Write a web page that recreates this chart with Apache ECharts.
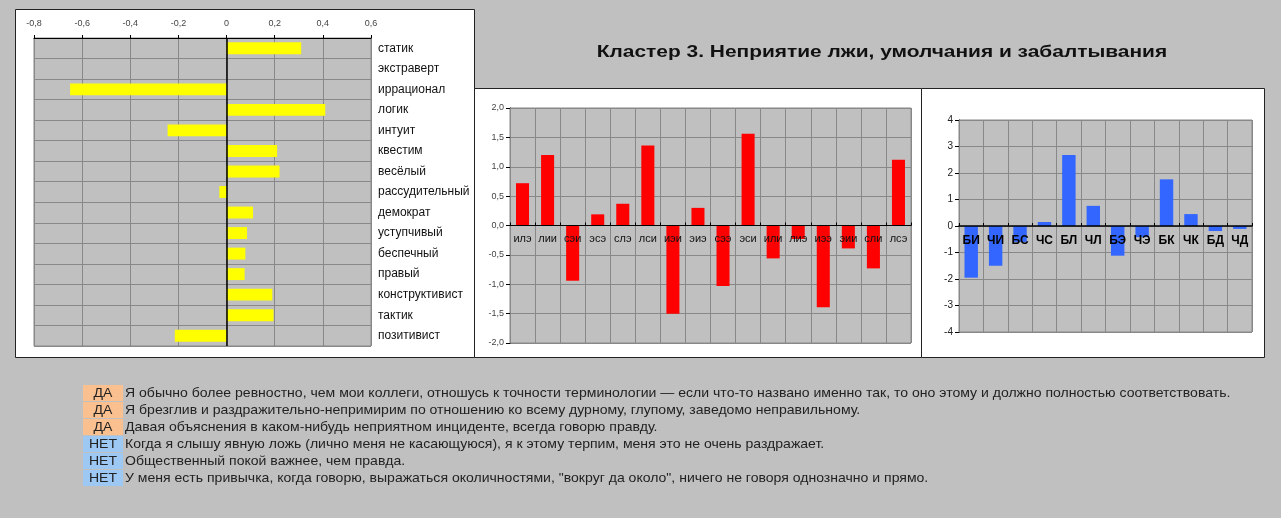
<!DOCTYPE html>
<html>
<head>
<meta charset="utf-8">
<script src="https://cdn.jsdelivr.net/npm/echarts@6/dist/echarts.min.js"></script>
<style>
  html, body { margin: 0; padding: 0; background: #c0c0c0; }
  #chart { width: 1281px; height: 518px; }
</style>
</head>
<body>
<div id="chart"></div>
<script>
// данные кластера 3
const traitNames = ['статик', 'экстраверт', 'иррационал', 'логик', 'интуит', 'квестим', 'весёлый',
  'рассудительный', 'демократ', 'уступчивый', 'беспечный', 'правый', 'конструктивист', 'тактик', 'позитивист'];
const traitValues = [0.31, 0.0, -0.65, 0.41, -0.245, 0.21, 0.22, -0.03, 0.11, 0.085, 0.078, 0.075, 0.19, 0.195, -0.215];

const typeNames = ['илэ', 'лии', 'сэи', 'эсэ', 'слэ', 'лси', 'иэи', 'эиэ', 'сээ', 'эси', 'или', 'лиэ', 'иээ', 'эии', 'сли', 'лсэ'];
const typeValues = [0.72, 1.20, -0.94, 0.19, 0.37, 1.36, -1.50, 0.30, -1.03, 1.56, -0.56, -0.23, -1.39, -0.39, -0.73, 1.12];

const funcNames = ['БИ', 'ЧИ', 'БС', 'ЧС', 'БЛ', 'ЧЛ', 'БЭ', 'ЧЭ', 'БК', 'ЧК', 'БД', 'ЧД'];
const funcValues = [-1.95, -1.50, -0.60, 0.15, 2.68, 0.76, -1.12, -0.42, 1.76, 0.45, -0.19, -0.11];

const answers = ['ДА', 'ДА', 'ДА', 'НЕТ', 'НЕТ', 'НЕТ'];
const statements = [
  'Я обычно более ревностно, чем мои коллеги, отношусь к точности терминологии — если что-то названо именно так, то оно этому и должно полностью соответствовать.',
  'Я брезглив и раздражительно-непримирим по отношению ко всему дурному, глупому, заведомо неправильному.',
  'Давая объяснения в каком-нибудь неприятном инциденте, всегда говорю правду.',
  'Когда я слышу явную ложь (лично меня не касающуюся), я к этому терпим, меня это не очень раздражает.',
  'Общественный покой важнее, чем правда.',
  'У меня есть привычка, когда говорю, выражаться околичностями, "вокруг да около", ничего не говоря однозначно и прямо.'
];

const FONT = '"Liberation Sans", Arial, sans-serif';
const GRID_LINE = '#888888';

// запятая вместо точки
const comma = v => String(Math.round(v * 10) / 10).replace('.', ',');
const comma1 = v => (Math.round(v * 10) / 10).toFixed(1).replace('.', ',');

// панели и подписи
const graphics = [
  { type: 'rect', z: -10, shape: { x: 15.5, y: 9.5, width: 459, height: 348 },
    style: { fill: '#fff', stroke: '#222', lineWidth: 1 } },
  { type: 'rect', z: -10, shape: { x: 474.5, y: 88.5, width: 447, height: 269 },
    style: { fill: '#fff', stroke: '#222', lineWidth: 1 } },
  { type: 'rect', z: -10, shape: { x: 921.5, y: 88.5, width: 343, height: 269 },
    style: { fill: '#fff', stroke: '#222', lineWidth: 1 } },
  { type: 'text', x: 882, y: 52, scaleX: 1.23, style: { text: 'Кластер 3. Неприятие лжи, умолчания и забалтывания',
    font: 'bold 17px ' + FONT, fill: '#111', align: 'center', verticalAlign: 'middle' } }
];

answers.forEach((a, i) => {
  const y = 385 + i * 17;
  graphics.push({ type: 'rect', shape: { x: 83, y: y, width: 40, height: 16 },
    style: { fill: a === 'ДА' ? '#fac08f' : '#9dc8f3' } });
  graphics.push({ type: 'text', x: 103, y: y + 8, scaleX: 1.08, style: { text: a, font: '13px ' + FONT,
    fill: '#222', align: 'center', verticalAlign: 'middle' } });
  graphics.push({ type: 'text', x: 125, y: y + 8, scaleX: 1.08, style: { text: statements[i], font: '13px ' + FONT,
    fill: '#222', align: 'left', verticalAlign: 'middle' } });
});

const gridBase = { show: true, backgroundColor: '#c0c0c0', borderColor: GRID_LINE, borderWidth: 1, containLabel: false };
const grids = [
  Object.assign({ left: 34, top: 38, width: 337, height: 308 }, gridBase),
  Object.assign({ left: 510, top: 108, width: 401, height: 235 }, gridBase),
  Object.assign({ left: 959, top: 120, width: 293, height: 212 }, gridBase)
];

const option = {
  backgroundColor: '#c0c0c0',
  animation: false,
  textStyle: { fontFamily: FONT },
  graphic: graphics,
  grid: grids,
  xAxis: [
    {
      gridIndex: 0, type: 'value', position: 'top', min: -0.8, max: 0.6, interval: 0.2,
      axisLine: { show: true, lineStyle: { color: '#000' } },
      axisTick: { show: true, length: 3, lineStyle: { color: '#000' } },
      axisLabel: { formatter: comma, fontSize: 9, color: '#444', margin: 10 },
      splitLine: { show: true, lineStyle: { color: GRID_LINE } }
    },
    {
      gridIndex: 1, type: 'category', data: typeNames, z: 10,
      axisLine: { onZero: true, lineStyle: { color: '#000', width: 1 } },
      axisTick: { show: true, length: 3, inside: true, lineStyle: { color: '#000' } },
      // подписи у нулевой линии (ось симметрична, ноль посередине)
      axisLabel: { fontSize: 11, color: '#111', margin: 8 - grids[1].height / 2, interval: 0 },
      splitLine: { show: true, lineStyle: { color: GRID_LINE } }
    },
    {
      gridIndex: 2, type: 'category', data: funcNames, z: 10,
      axisLine: { onZero: true, lineStyle: { color: '#000', width: 1.5 } },
      axisTick: { show: true, length: 3, inside: true, lineStyle: { color: '#000' } },
      axisLabel: { fontSize: 12, fontWeight: 'bold', color: '#000', margin: 9 - grids[2].height / 2, interval: 0 },
      splitLine: { show: true, lineStyle: { color: GRID_LINE } }
    }
  ],
  yAxis: [
    {
      gridIndex: 0, type: 'category', data: traitNames, inverse: true, position: 'right',
      axisLine: { show: false }, axisTick: { show: false },
      axisLabel: { fontSize: 12, color: '#111', margin: 7, interval: 0 },
      splitLine: { show: true, lineStyle: { color: GRID_LINE } }
    },
    {
      gridIndex: 1, type: 'value', min: -2, max: 2, interval: 0.5,
      axisLine: { show: true, onZero: false, lineStyle: { color: '#000' } },
      axisTick: { show: true, length: 4, lineStyle: { color: '#000' } },
      axisLabel: { formatter: comma1, fontSize: 9, color: '#444', margin: 6 },
      splitLine: { show: true, lineStyle: { color: GRID_LINE } }
    },
    {
      gridIndex: 2, type: 'value', min: -4, max: 4, interval: 1,
      axisLine: { show: true, onZero: false, lineStyle: { color: '#000' } },
      axisTick: { show: true, length: 4, lineStyle: { color: '#000' } },
      axisLabel: { fontSize: 10, color: '#222', margin: 6 },
      splitLine: { show: true, lineStyle: { color: GRID_LINE } }
    }
  ],
  series: [
    {
      type: 'bar', xAxisIndex: 0, yAxisIndex: 0, data: traitValues,
      barCategoryGap: '42%', itemStyle: { color: '#ffff00' },
      markLine: {
        silent: true, symbol: 'none', label: { show: false },
        lineStyle: { color: '#000', type: 'solid', width: 1.5 },
        data: [{ xAxis: 0 }]
      }
    },
    {
      type: 'bar', xAxisIndex: 1, yAxisIndex: 1, data: typeValues,
      barCategoryGap: '48%', itemStyle: { color: '#ff0000' }
    },
    {
      type: 'bar', xAxisIndex: 2, yAxisIndex: 2, data: funcValues,
      barCategoryGap: '45%', itemStyle: { color: '#3366ff' }
    }
  ]
};

const chart = echarts.init(document.getElementById('chart'));
chart.setOption(option);
window.addEventListener('resize', () => chart.resize());
</script>
</body>
</html>
